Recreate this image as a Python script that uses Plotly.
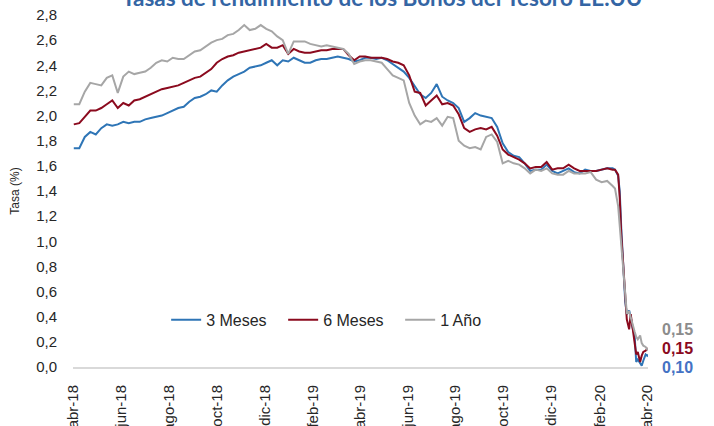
import plotly.graph_objects as go
from datetime import date, timedelta

# ---- data ----
weekly_start = date(2018, 4, 2)
weekly_dates = [(weekly_start + timedelta(days=7 * i)).isoformat() for i in range(99)]
crash_dates = ["2020-02-20", "2020-02-24", "2020-02-26", "2020-02-28", "2020-03-02",
               "2020-03-04", "2020-03-06", "2020-03-09", "2020-03-11", "2020-03-13",
               "2020-03-16", "2020-03-18", "2020-03-20", "2020-03-23", "2020-03-25",
               "2020-03-27", "2020-03-30", "2020-04-01", "2020-04-02"]
dates = weekly_dates + crash_dates

m3 = [1.74, 1.74, 1.83, 1.87, 1.85, 1.90, 1.93, 1.92, 1.93, 1.95,
      1.94, 1.95, 1.95, 1.97, 1.98, 1.99, 2.00, 2.02, 2.04, 2.06,
      2.07, 2.11, 2.14, 2.15, 2.17, 2.20, 2.19, 2.24, 2.28, 2.31,
      2.33, 2.35, 2.38, 2.39, 2.40, 2.42, 2.44, 2.40, 2.44, 2.43,
      2.46, 2.44, 2.42, 2.42, 2.44, 2.45, 2.45, 2.46, 2.47, 2.46,
      2.45, 2.43, 2.44, 2.46, 2.46, 2.45, 2.46, 2.44, 2.41, 2.38,
      2.35, 2.30, 2.24, 2.17, 2.14, 2.18, 2.25, 2.15, 2.12, 2.10,
      2.06, 1.95, 1.98, 2.02, 2.00, 1.99, 1.98, 1.91, 1.78, 1.71,
      1.68, 1.67, 1.62, 1.56, 1.57, 1.57, 1.61, 1.56, 1.54, 1.56,
      1.58, 1.55, 1.54, 1.57, 1.56, 1.56, 1.57, 1.58, 1.58,
      1.57, 1.52, 1.40, 1.10, 0.80, 0.52, 0.42, 0.45, 0.40, 0.32,
      0.25, 0.04, 0.06, 0.03, 0.01, 0.05, 0.10, 0.09, 0.10]

m6 = [1.93, 1.94, 1.99, 2.04, 2.04, 2.06, 2.09, 2.12, 2.06, 2.10,
      2.08, 2.12, 2.13, 2.15, 2.17, 2.19, 2.21, 2.22, 2.23, 2.24,
      2.26, 2.28, 2.30, 2.31, 2.34, 2.37, 2.42, 2.45, 2.47, 2.48,
      2.50, 2.51, 2.52, 2.53, 2.54, 2.57, 2.54, 2.54, 2.56, 2.49,
      2.53, 2.51, 2.50, 2.50, 2.51, 2.52, 2.52, 2.53, 2.53, 2.53,
      2.48, 2.44, 2.47, 2.47, 2.46, 2.46, 2.46, 2.45, 2.43, 2.42,
      2.40, 2.32, 2.19, 2.18, 2.08, 2.12, 2.16, 2.09, 2.10, 2.08,
      2.01, 1.90, 1.87, 1.89, 1.90, 1.89, 1.91, 1.84, 1.73, 1.69,
      1.67, 1.65, 1.62, 1.58, 1.59, 1.59, 1.63, 1.57, 1.58, 1.58,
      1.61, 1.58, 1.56, 1.56, 1.56, 1.56, 1.57, 1.58, 1.57,
      1.57, 1.53, 1.35, 1.05, 0.72, 0.50, 0.38, 0.30, 0.42, 0.33,
      0.18, 0.10, 0.12, 0.04, 0.09, 0.12, 0.13, 0.15, 0.15]

y1 = [2.09, 2.09, 2.19, 2.26, 2.25, 2.24, 2.30, 2.32, 2.18, 2.31,
      2.35, 2.33, 2.34, 2.35, 2.38, 2.42, 2.44, 2.43, 2.46, 2.45,
      2.45, 2.48, 2.51, 2.52, 2.55, 2.58, 2.60, 2.61, 2.64, 2.65,
      2.68, 2.72, 2.68, 2.69, 2.72, 2.69, 2.67, 2.63, 2.60, 2.49,
      2.59, 2.59, 2.59, 2.57, 2.56, 2.55, 2.56, 2.55, 2.54, 2.53,
      2.49, 2.41, 2.43, 2.44, 2.44, 2.43, 2.42, 2.37, 2.32, 2.30,
      2.28, 2.10, 2.00, 1.93, 1.96, 1.95, 1.98, 1.92, 1.99, 1.98,
      1.80, 1.76, 1.74, 1.75, 1.73, 1.83, 1.85, 1.79, 1.62, 1.64,
      1.62, 1.61, 1.58, 1.54, 1.57, 1.56, 1.58, 1.54, 1.53, 1.53,
      1.56, 1.54, 1.54, 1.54, 1.55, 1.49, 1.47, 1.48, 1.44,
      1.42, 1.28, 1.12, 1.00, 0.75, 0.55, 0.43, 0.44, 0.40, 0.35,
      0.28, 0.24, 0.22, 0.25, 0.19, 0.17, 0.16, 0.14, 0.15]

series_names = ["3 Meses", "6 Meses", "1 Año"]
end_labels = ["0,10", "0,15", "0,15"]

tick_dates = ["2018-04-01", "2018-06-01", "2018-08-01", "2018-10-01", "2018-12-01",
              "2019-02-01", "2019-04-01", "2019-06-01", "2019-08-01", "2019-10-01",
              "2019-12-01", "2020-02-01", "2020-04-01"]
tick_text = ["abr-18", "jun-18", "ago-18", "oct-18", "dic-18", "feb-19", "abr-19",
             "jun-19", "ago-19", "oct-19", "dic-19", "feb-20", "abr-20"]
y_ticks = [0.0, 0.2, 0.4, 0.6, 0.8, 1.0, 1.2, 1.4, 1.6, 1.8, 2.0, 2.2, 2.4, 2.6, 2.8]

title_text = "Tasas de rendimiento de los Bonos del Tesoro EE.UU"

# ---- styling ----
colors = ["#2E75B6", "#8B0A1E", "#A6A6A6"]
label_colors = ["#4472C4", "#8B0A1E", "#8C8C8C"]

fig = go.Figure()
for name, vals, col in zip(series_names, [m3, m6, y1], colors):
    fig.add_trace(go.Scatter(x=dates, y=vals, name=name, mode="lines",
                             line=dict(color=col, width=2)))

# end labels (gray top, red middle, blue bottom)
label_y = {"1 Año": 0.107, "6 Meses": 0.052, "3 Meses": -0.002}
for name, txt, col in zip(series_names, end_labels, label_colors):
    fig.add_annotation(x=1.021, y=label_y[name], xref="paper", yref="paper",
                       text="<b>" + txt + "</b>", showarrow=False,
                       xanchor="left", yanchor="middle",
                       font=dict(family="Liberation Sans, Arial", size=16, color=col))

fig.add_annotation(x=0.539, y=1.006, xref="paper", yref="paper",
                   text="<b>" + title_text + "</b>", showarrow=False,
                   xanchor="center", yanchor="bottom",
                   font=dict(family="Lato, Open Sans", size=22.5, color="#3465A4"))

fig.update_layout(
    width=714, height=426,
    margin=dict(l=73, r=66, t=15, b=59),
    paper_bgcolor="white", plot_bgcolor="white",
    separators=", ",
    font=dict(family="Liberation Sans, Arial", color="#262626"),
    showlegend=True,
    legend=dict(orientation="h", x=0.162, y=0.134, xanchor="left", yanchor="middle",
                font=dict(size=16, color="#262626"), bgcolor="rgba(0,0,0,0)",
                entrywidth=72, entrywidthmode="pixels", itemwidth=30),
)
fig.update_xaxes(type="date", range=["2018-04-01", "2020-04-02"],
                 tickvals=tick_dates, ticktext=tick_text, tickangle=-90,
                 tickfont=dict(size=15, color="#262626"), ticklabelstandoff=10,
                 showgrid=False, zeroline=False, showline=True, automargin=False,
                 linecolor="#D9D9D9", linewidth=2, ticks="")
fig.update_yaxes(range=[0, 2.8], tickvals=y_ticks, tickformat=".1f",
                 tickfont=dict(size=15, color="#262626"), ticklabelstandoff=15,
                 ticklabeloverflow="allow", automargin=False,
                 showgrid=False, zeroline=False, showline=False, ticks="",
                 title=dict(text="Tasa (%)", font=dict(size=12, color="#262626"), standoff=13))

# remove the default 8px page margin so the figure sits at the window's top-left corner
fig.write_html("out.html", config={"displayModeBar": False},
               post_script="document.body.style.margin='0';")
